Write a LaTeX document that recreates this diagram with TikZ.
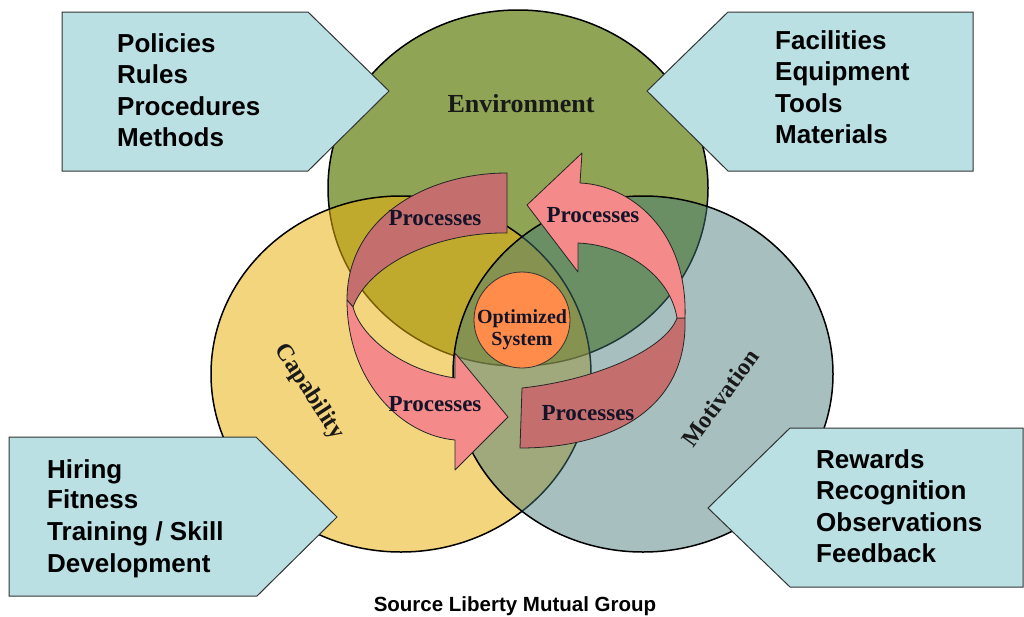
\documentclass[tikz,border=0pt]{standalone}
\usepackage{fontspec}
\setmainfont{Liberation Serif}
\setsansfont{Liberation Sans}
\definecolor{envc}{RGB}{143,164,84}
\definecolor{capc}{RGB}{234,177,11}
\definecolor{motc}{RGB}{68,121,121}
\definecolor{boxc}{RGB}{186,224,228}
\definecolor{darkrose}{RGB}{196,110,110}
\definecolor{pinkc}{RGB}{245,138,138}
\definecolor{orangec}{RGB}{255,140,75}
\definecolor{inkc}{RGB}{20,20,40}
\begin{document}
\begin{tikzpicture}[x=1pt,y=-1pt,
  circ/.style={draw=black, line width=1.5pt},
  band/.style={draw=black!85, line width=0.8pt, line join=round},
  callout/.style={fill=boxc, draw=black!80, line width=1pt, line join=miter},
  listtxt/.style={font=\sffamily\bfseries\fontsize{26}{30}\selectfont, anchor=base west, inner sep=0pt},
  proc/.style={font=\bfseries\fontsize{23}{26}\selectfont, inner sep=0pt, anchor=base, text=inkc},
  circlabel/.style={font=\bfseries\fontsize{24}{28}\selectfont, inner sep=0pt, text=black!90}]
\useasboundingbox (0,0) rectangle (1024,616);
\fill[white] (0,0) rectangle (1024,616);
% three overlapping circles
\draw[circ, fill=envc] (518,188) ellipse [x radius=190pt, y radius=178pt];
\draw[circ, fill=capc, fill opacity=0.53] (401,374) ellipse [x radius=190pt, y radius=178pt];
\draw[circ, fill=motc, fill opacity=0.47] (643,374) ellipse [x radius=190pt, y radius=178pt];
% left circular arrow
\draw[band, fill=darkrose] (507,173) .. controls (430,173) and (347,215) .. (347,300) -- (353,307) .. controls (370,262) and (440,232) .. (507,233) -- cycle;
\draw[band, fill=pinkc] (347,300) .. controls (347,380) and (400,435) .. (455,440) -- (455,470) -- (508,417) -- (455,353) -- (455,378) .. controls (400,370) and (360,335) .. (353,307) -- cycle;
% right circular arrow
\draw[band, fill=darkrose] (685,318) .. controls (688,410) and (610,448) .. (520,448) -- (522,388) .. controls (595,380) and (665,350) .. (677,318) -- cycle;
\draw[band, fill=pinkc] (685,318) .. controls (688,230) and (630,185) .. (580,183) -- (582,153) -- (527,205) -- (578,272) -- (578,243) .. controls (625,245) and (670,275) .. (677,318) -- cycle;
% centre
\draw[fill=orangec, draw=black!80, line width=0.8pt] (522,320) circle [radius=48pt];
\node[font=\bfseries\fontsize{20}{23}\selectfont, inner sep=0pt, anchor=base, text=inkc] (opt1) at (522,323) {Optimized};
\node[font=\bfseries\fontsize{20}{23}\selectfont, inner sep=0pt, anchor=base, text=inkc] (opt2) at (522,345) {System};
% labels
\node[proc] (p1) at (435,225) {Processes};
\node[proc] (p2) at (435,411) {Processes};
\node[proc] (p3) at (593,222) {Processes};
\node[proc] (p4) at (588,420) {Processes};
\node[circlabel, anchor=base, font=\bfseries\fontsize{26}{30}\selectfont] (envl) at (521,112) {Environment};
\node[circlabel, rotate=-57] (capl) at (309,392) {Capability};
\node[circlabel, rotate=54] (motl) at (720,398) {Motivation};
% callouts
\draw[callout] (62,12) -- (308,12) -- (389,91) -- (308,171) -- (62,171) -- cycle;
\draw[callout] (973,12) -- (728,12) -- (647,91) -- (728,171) -- (973,171) -- cycle;
\draw[callout] (9,437) -- (256,437) -- (337,517) -- (257,596) -- (9,596) -- cycle;
\draw[callout] (1023,428) -- (790,428) -- (708,508) -- (790,587) -- (1023,587) -- cycle;
\node[listtxt] (a1) at (117,52) {Policies};
\node[listtxt] (a2) at (117,83) {Rules};
\node[listtxt] (a3) at (117,115) {Procedures};
\node[listtxt] (a4) at (117,146) {Methods};
\node[listtxt] (b1) at (775,49) {Facilities};
\node[listtxt] (b2) at (775,80) {Equipment};
\node[listtxt] (b3) at (775,112) {Tools};
\node[listtxt] (b4) at (775,143) {Materials};
\node[listtxt] (c1) at (47,478) {Hiring};
\node[listtxt] (c2) at (47,508) {Fitness};
\node[listtxt] (c3) at (47,540) {Training / Skill};
\node[listtxt] (c4) at (47,572) {Development};
\node[listtxt] (d1) at (816,468) {Rewards};
\node[listtxt] (d2) at (816,499) {Recognition};
\node[listtxt] (d3) at (816,531) {Observations};
\node[listtxt] (d4) at (816,562) {Feedback};
\node[font=\sffamily\bfseries\fontsize{20.5}{24}\selectfont, inner sep=0pt, anchor=base] (src) at (515,611) {Source Liberty Mutual Group};
\end{tikzpicture}
\end{document}
